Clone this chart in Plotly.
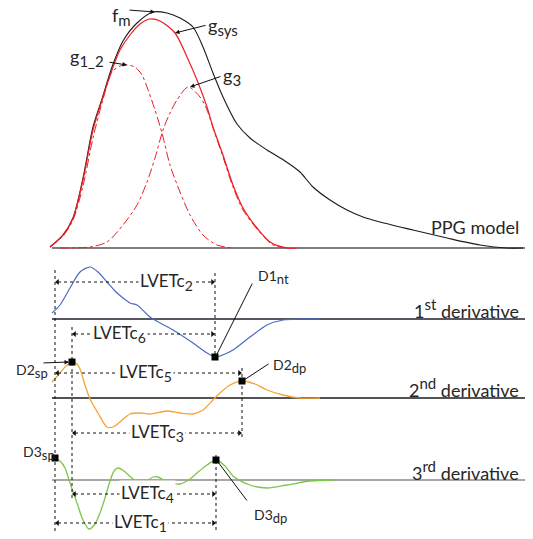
import plotly.graph_objects as go

# ---------------- PPG model (time in samples, amplitude in a.u.) ----------------
t_fm = [50, 63, 73, 83, 93, 102, 112, 123, 137, 153, 167, 180, 193, 203, 213, 223,
        237, 250, 267, 285, 300, 313, 330, 347, 363, 380, 413, 447, 480, 507, 523]
a_fm = [1, 13, 30, 70, 121, 149, 181, 207, 225, 236, 235, 230, 221, 201, 175, 151,
        124, 110, 98, 87, 76, 61, 48, 38, 31, 26, 18, 10, 3, 0, 0]

t_gsys = [50, 63, 73, 83, 93, 102, 112, 120, 130, 140, 150, 160, 175, 187, 197, 207,
          213, 223, 233, 243, 257, 270, 287, 297]
a_gsys = [1, 13, 30, 68, 118, 148, 178, 198, 213, 224, 229, 227, 215, 191, 168, 141,
          121, 93, 63, 40, 20, 6, 0, 0]

t_g12 = [50, 63, 73, 83, 93, 102, 112, 120, 127, 135, 142, 147, 155, 162, 170, 180,
         190, 203, 217, 233]
a_g12 = [1, 12, 28, 62, 110, 145, 176, 182, 183, 181, 173, 161, 138, 115, 83, 56,
         33, 13, 3, 0]

t_g3 = [60, 90, 107, 123, 137, 147, 155, 163, 170, 177, 188, 200, 207, 213, 223, 233,
        243, 257, 273, 290]
a_g3 = [0, 1, 6, 23, 43, 66, 90, 118, 135, 148, 161, 151, 138, 120, 91, 61,
        38, 19, 3, 0]

# ---------------- derivatives ----------------
t_d1 = [52, 60, 70, 80, 90, 98, 107, 115, 123, 130, 137, 150, 162, 173, 193, 207,
        215, 225, 233, 250, 267, 283, 300, 320]
a_d1 = [6, 14, 31, 47, 52, 47, 37, 28, 21, 16, 14, 2, -5, -11, -24, -34,
        -38, -35, -31, -18, -6, -1, 0, 0]

t_d2 = [52, 60, 66, 72, 77, 80, 85, 90, 98, 107, 113, 120, 130, 140, 150, 167,
        180, 193, 203, 213, 220, 230, 242, 255, 267, 283, 300, 320]
a_d2 = [16, 25, 32, 36, 34, 29, 13, -1, -15, -29, -29, -24, -16, -15, -16, -13,
        -15, -16, -12, -2, 5, 13, 17, 14, 8, 3, 0, 0]

t_d3 = [52, 55, 60, 65, 70, 77, 83, 89, 95, 100, 105, 110, 114, 118, 124, 133,
        140, 147, 153, 158, 167, 180, 190, 197, 207, 216, 225, 233, 250, 267, 287,
        310, 333]
a_d3 = [22, 22, 19, 12, -3, -23, -40, -49, -44, -33, -18, -1, 9, 12, 9, 1,
        -2, -1, 3, 3, -2, -4, 1, 7, 15, 20, 14, 4, -5, -8, -5,
        -1, 0]

# ---------------- characteristic points ----------------
t_D3sp, a_D3sp = 55, 22
t_D2sp, a_D2sp = 72, 36
t_D1nt, a_D1nt = 215, -38
t_D2dp, a_D2dp = 242, 17
t_D3dp, a_D3dp = 216, 20

# ---------------- layout constants ----------------
W, H = 533, 539
BASE = {"ppg": 248, "d1": 319, "d2": 398, "d3": 480}
X0, X1 = 52, 525
FONT = "Lato, Open Sans, sans-serif"
TXT = "#262626"


def y_of(panel, amps):
    b = BASE[panel]
    if isinstance(amps, (list, tuple)):
        return [b - a for a in amps]
    return b - amps


def sub(s, px):
    return f"<sub><span style='font-size:{px}px'>{s}</span></sub>"


def sup(s, px):
    return f"<sup><span style='font-size:{px}px'>{s}</span></sup>"


fig = go.Figure()


def curve(t, a, panel, color, width=1.1, dash="solid"):
    fig.add_trace(go.Scatter(x=t, y=y_of(panel, a), mode="lines",
                             line=dict(color=color, width=width, dash=dash,
                                       shape="spline", smoothing=0.8),
                             hoverinfo="skip", showlegend=False))


# baselines
shapes = []
for panel, col, w in [("ppg", "#7f7f7f", 2), ("d1", "#1f1f2f", 1.3),
                      ("d2", "#1a1a1a", 1.3), ("d3", "#8a8a8a", 1.6)]:
    shapes.append(dict(type="line", xref="x", yref="y", x0=X0, x1=X1,
                       y0=BASE[panel], y1=BASE[panel],
                       line=dict(color=col, width=w), layer="below"))

RED = "#ee1c24"
curve(t_g12, a_g12, "ppg", RED, 1, "dashdot")
curve(t_g3, a_g3, "ppg", RED, 1, "dashdot")
curve(t_fm, a_fm, "ppg", "#1a1a1a", 1.1)
curve(t_gsys, a_gsys, "ppg", RED, 1.2)
curve(t_d1, a_d1, "d1", "#4a6cc0", 1.2)
curve(t_d2, a_d2, "d2", "#f7a234", 1.3)
curve(t_d3, a_d3, "d3", "#7cc64a", 1.3)

# vertical dotted guides
DOT = dict(color="#111111", width=1, dash="dot")
for x, ya, yb in [(t_D3sp, 270, 531), (t_D2sp, 327, 498), (t_D1nt, 273, 357),
                  (t_D2dp, 368, 438), (t_D3dp, 455, 532)]:
    shapes.append(dict(type="line", xref="x", yref="y", x0=x, x1=x, y0=ya, y1=yb,
                       line=DOT))

# LVET intervals: (start, end, y, subscript, label centre)
intervals = [
    (t_D3sp, t_D1nt, 282, "2", 166),
    (t_D2sp, t_D1nt, 334, "6", 119),
    (t_D3sp, t_D2dp, 373, "5", 145),
    (t_D2sp, t_D2dp, 433, "3", 157),
    (t_D2sp, t_D3dp, 494, "4", 147),
    (t_D3sp, t_D3dp, 523, "1", 140),
]
annotations = []
hx_l, hx_r, hy = [], [], []
for xs, xe, y, k, xc in intervals:
    shapes.append(dict(type="line", xref="x", yref="y", x0=xs + 3, x1=xe - 3,
                       y0=y, y1=y, line=DOT))
    hx_l.append(xs + 2.5)
    hx_r.append(xe - 2.5)
    hy.append(y)
    annotations.append(dict(x=xc, y=y, xref="x", yref="y",
                            text="LVETc" + sub(k, 14),
                            showarrow=False, bgcolor="white", borderpad=1,
                            font=dict(family=FONT, size=17, color=TXT),
                            xanchor="center", yanchor="middle"))

fig.add_trace(go.Scatter(x=hx_l, y=hy, mode="markers",
                         marker=dict(symbol="triangle-left", size=5, color="#111"),
                         hoverinfo="skip", showlegend=False))
fig.add_trace(go.Scatter(x=hx_r, y=hy, mode="markers",
                         marker=dict(symbol="triangle-right", size=5, color="#111"),
                         hoverinfo="skip", showlegend=False))

# characteristic point markers
fig.add_trace(go.Scatter(
    x=[t_D1nt, t_D2sp, t_D2dp, t_D3sp, t_D3dp],
    y=[y_of("d1", a_D1nt), y_of("d2", a_D2sp), y_of("d2", a_D2dp),
       y_of("d3", a_D3sp), y_of("d3", a_D3dp)],
    mode="markers", marker=dict(symbol="square", size=7, color="black"),
    hoverinfo="skip", showlegend=False))


def pointer(x, y, tx, ty, head=2):
    annotations.append(dict(x=x, y=y, ax=tx, ay=ty, xref="x", yref="y",
                            axref="x", ayref="y", text="", showarrow=True,
                            arrowhead=head, arrowsize=0.9, arrowwidth=1,
                            arrowcolor="#111", standoff=0, startstandoff=0))


def label(x, y, text, size=18, anchor="left"):
    annotations.append(dict(x=x, y=y, xref="x", yref="y", text=text,
                            showarrow=False, xanchor=anchor, yanchor="middle",
                            font=dict(family=FONT, size=size, color=TXT)))


# component labels and pointers
pointer(155, 12, 128, 10)
pointer(175, 33, 207, 25)
pointer(127, 65, 108, 62)
pointer(190, 87, 222, 76)
label(110, 16, "f" + sub("m", 15))
label(206, 26, "g" + sub("sys", 15))
label(68, 57, "g" + sub("1_2", 15))
label(221, 76, "g" + sub("3", 15))

# characteristic point labels
pointer(t_D1nt + 1, y_of("d1", a_D1nt) - 1, 253, 282, head=0)
pointer(t_D2sp - 3, y_of("d2", a_D2sp), 42, 363)
pointer(t_D2dp + 2, y_of("d2", a_D2dp) - 1, 270, 363, head=0)
pointer(t_D3dp + 2, y_of("d3", a_D3dp) + 2, 248, 502, head=0)
label(256, 277, "D1" + sub("nt", 13), 14)
label(271, 366, "D2" + sub("dp", 13), 14)
label(14, 371, "D2" + sub("sp", 13), 14)
label(21, 453, "D3" + sub("sp", 13), 14)
label(252, 516, "D3" + sub("dp", 13), 14)

# panel titles
label(521, 227, "PPG model", 18, "right")
label(521, 308, "1" + sup("st", 15) + " derivative", 18, "right")
label(521, 387, "2" + sup("nd", 15) + " derivative", 18, "right")
label(521, 470, "3" + sup("rd", 15) + " derivative", 18, "right")

fig.update_layout(
    width=W, height=H, margin=dict(l=0, r=0, t=0, b=0),
    paper_bgcolor="white", plot_bgcolor="white",
    xaxis=dict(range=[0, W], visible=False, fixedrange=True),
    yaxis=dict(range=[H, 0], visible=False, fixedrange=True),
    shapes=shapes, annotations=annotations, showlegend=False,
)

fig.write_html("out.html")
